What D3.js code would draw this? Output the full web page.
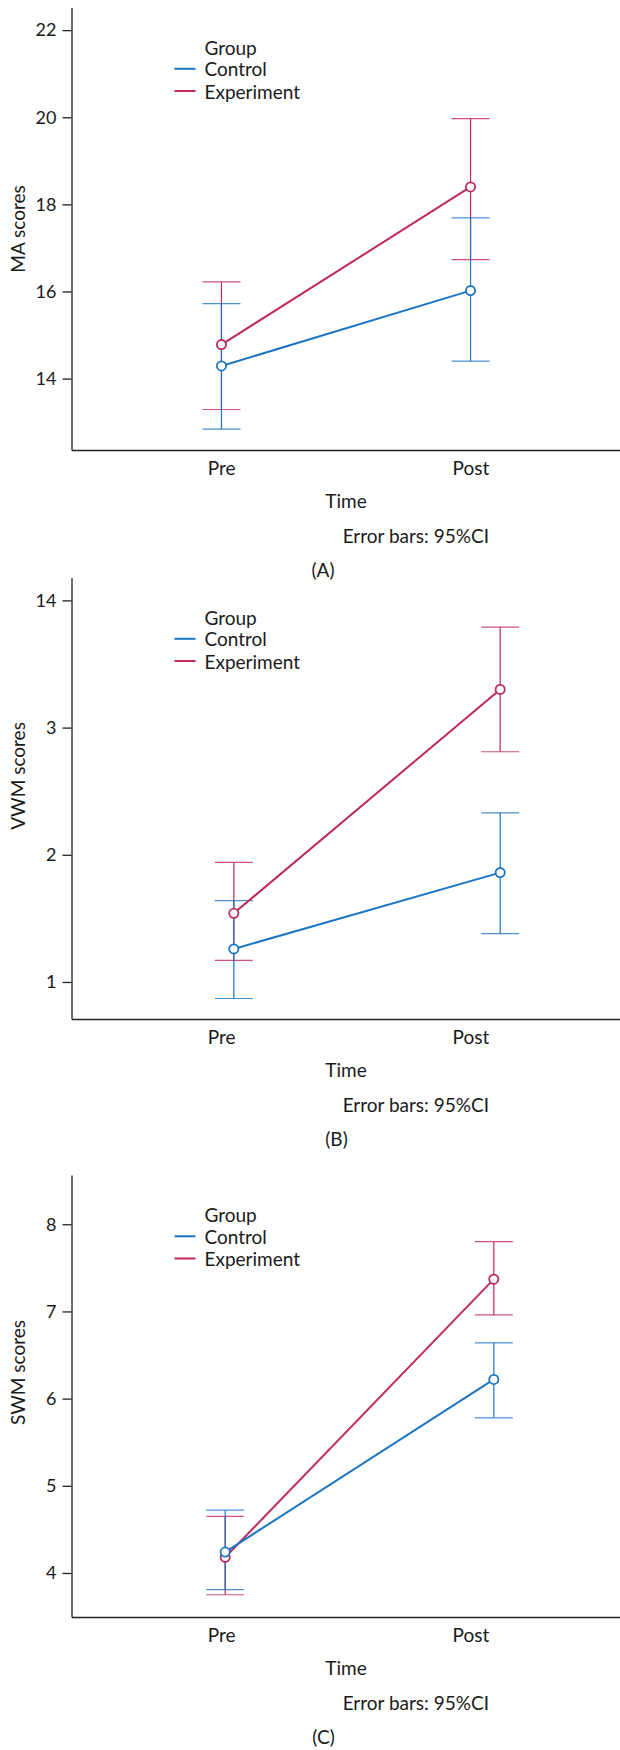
<!DOCTYPE html>
<html>
<head>
<meta charset="utf-8">
<script src="https://cdn.jsdelivr.net/npm/d3@7"></script>
<style>
  body { margin: 0; background: #fff; }
  svg text { font-family: Lato, "Liberation Sans", sans-serif; fill: #1a1a1a; }
  .axis path, .axis line { stroke: #222; stroke-width: 1.3; }
</style>
</head>
<body>
<div id="chart"></div>
<script>
// time points and groups
var times = ["Pre", "Post"];
var groups = ["Experiment", "Control"];   // drawing order, control ends on top
var legendGroups = ["Control", "Experiment"];

// (A) MA scores, mean and 95% CI [low, high] at Pre / Post
var maControl = [14.29, 16.02];
var maControlCI = [[12.84, 15.72], [14.40, 17.69]];
var maExperiment = [14.78, 18.40];
var maExperimentCI = [[13.29, 16.22], [16.73, 19.97]];
var maTicks = [14, 16, 18, 20, 22];
var maTickLabels = ["14", "16", "18", "20", "22"];

// (B) VWM scores
var vwmControl = [1.26, 1.86];
var vwmControlCI = [[0.87, 1.64], [1.38, 2.33]];
var vwmExperiment = [1.54, 3.30];
var vwmExperimentCI = [[1.17, 1.94], [2.81, 3.79]];
var vwmTicks = [1, 2, 3, 4];
var vwmTickLabels = ["1", "2", "3", "14"];

// (C) SWM scores
var swmControl = [4.24, 6.22];
var swmControlCI = [[3.81, 4.72], [5.78, 6.64]];
var swmExperiment = [4.18, 7.37];
var swmExperimentCI = [[3.75, 4.65], [6.96, 7.80]];
var swmTicks = [4, 5, 6, 7, 8];
var swmTickLabels = ["4", "5", "6", "7", "8"];

var color = { Control: "#1b75c4", Experiment: "#c0295b" };

var panels = [
  { title: "MA scores", tag: "(A)", top: 7.5, bottom: 450, yDomain: [12.36, 22.52],
    markRange: [72, 620], titleY: 221.5, tagX: 323,
    means: { Control: maControl, Experiment: maExperiment },
    ci: { Control: maControlCI, Experiment: maExperimentCI },
    ticks: maTicks, tickLabels: maTickLabels },
  { title: "VWM scores", tag: "(B)", top: 577.5, bottom: 1019, yDomain: [0.709, 4.18],
    markRange: [74, 660], titleY: 198.5, tagX: 336.5,
    means: { Control: vwmControl, Experiment: vwmExperiment },
    ci: { Control: vwmControlCI, Experiment: vwmExperimentCI },
    ticks: vwmTicks, tickLabels: vwmTickLabels },
  { title: "SWM scores", tag: "(C)", top: 1175, bottom: 1617, yDomain: [3.495, 8.565],
    markRange: [64, 655], titleY: 197.5, tagX: 323.5,
    means: { Control: swmControl, Experiment: swmExperiment },
    ci: { Control: swmControlCI, Experiment: swmExperimentCI },
    ticks: swmTicks, tickLabels: swmTickLabels }
];

var W = 620, H = 1750, left = 71.5, capHalf = 19;

var svg = d3.select("#chart").append("svg")
  .attr("width", W)
  .attr("height", H);

panels.forEach(function(p) {
  var h = p.bottom - p.top;
  var g = svg.append("g").attr("transform", "translate(0," + p.top + ")");

  var y = d3.scaleLinear().domain(p.yDomain).range([h, 0]);
  var xLabel = d3.scalePoint().domain(times).range([left, W]).padding(0.6);
  var xMark = d3.scalePoint().domain(times).range(p.markRange).padding(0.6);

  // y axis
  var yAxis = g.append("g")
    .attr("class", "axis")
    .attr("transform", "translate(" + left + ",0)")
    .call(d3.axisLeft(y).tickValues(p.ticks)
      .tickFormat(function(d, i) { return p.tickLabels[i]; })
      .tickSize(9).tickPadding(6).tickSizeOuter(0));
  yAxis.selectAll("text").style("font-size", "18px");

  // x axis, no tick marks
  var xAxis = g.append("g")
    .attr("class", "axis")
    .attr("transform", "translate(0," + h + ")")
    .call(d3.axisBottom(xLabel).tickSize(0).tickPadding(11.5).tickSizeOuter(0));
  xAxis.selectAll("text").style("font-size", "19px");

  // y title
  g.append("text")
    .attr("transform", "translate(24.5," + p.titleY + ") rotate(-90)")
    .attr("text-anchor", "middle")
    .style("font-size", "19px")
    .text(p.title);

  // error bars
  groups.forEach(function(grp) {
    var bars = g.append("g").attr("stroke", color[grp]).attr("stroke-width", 1.2);
    times.forEach(function(t, i) {
      var lo = p.ci[grp][i][0], hi = p.ci[grp][i][1], cx = xMark(t);
      bars.append("line")
        .attr("x1", cx).attr("x2", cx)
        .attr("y1", y(lo)).attr("y2", y(hi));
      [lo, hi].forEach(function(v) {
        bars.append("line")
          .attr("x1", cx - capHalf).attr("x2", cx + capHalf)
          .attr("y1", y(v)).attr("y2", y(v))
          .attr("stroke-opacity", 0.8);
      });
    });
  });

  // mean lines and markers
  var line = d3.line()
    .x(function(d, i) { return xMark(times[i]); })
    .y(function(d) { return y(d); });

  groups.forEach(function(grp) {
    g.append("path")
      .datum(p.means[grp])
      .attr("d", line)
      .attr("fill", "none")
      .attr("stroke", color[grp])
      .attr("stroke-width", 2);
  });
  groups.forEach(function(grp) {
    g.selectAll(".pt-" + grp)
      .data(p.means[grp])
      .enter().append("circle")
      .attr("cx", function(d, i) { return xMark(times[i]); })
      .attr("cy", function(d) { return y(d); })
      .attr("r", 4.6)
      .attr("fill", "#fff")
      .attr("stroke", color[grp])
      .attr("stroke-width", 1.8);
  });

  // legend
  var lg = g.append("g");
  lg.append("text")
    .attr("x", 204.5).attr("y", 47)
    .style("font-size", "19px")
    .text("Group");
  legendGroups.forEach(function(grp, i) {
    var ly = 61.3 + i * 22.2;
    lg.append("line")
      .attr("x1", 174.5).attr("x2", 195.5)
      .attr("y1", ly).attr("y2", ly)
      .attr("stroke", color[grp]).attr("stroke-width", 2);
    lg.append("text")
      .attr("x", 204.5).attr("y", ly + 7.5)
      .style("font-size", "19px")
      .text(grp);
  });

  // captions below the axis
  g.append("text")
    .attr("x", 346).attr("y", h + 58)
    .attr("text-anchor", "middle")
    .style("font-size", "19px")
    .text("Time");
  g.append("text")
    .attr("x", 489).attr("y", h + 93)
    .attr("text-anchor", "end")
    .style("font-size", "19px")
    .text("Error bars: 95%CI");
  g.append("text")
    .attr("x", p.tagX).attr("y", h + 127)
    .attr("text-anchor", "middle")
    .style("font-size", "19px")
    .text(p.tag);
});
</script>
</body>
</html>
